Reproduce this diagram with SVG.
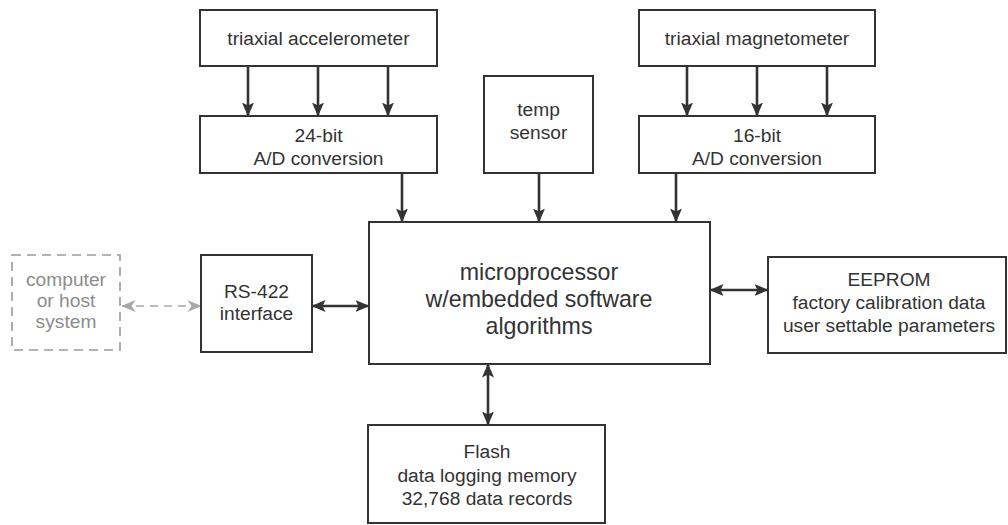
<svg xmlns="http://www.w3.org/2000/svg" width="1008" height="525" viewBox="0 0 1008 525">
  <style>
    .box { fill: #ffffff; stroke: #333333; stroke-width: 2; }
    .ghost { fill: none; stroke: #9a9a9a; stroke-width: 1.6; stroke-dasharray: 9 6; }
    .lbl { font-family: "Liberation Sans", Arial, Helvetica, sans-serif; font-size: 19.2px; fill: #333333; text-anchor: middle; }
    .big { font-size: 23.2px; }
    .grey { fill: #8c8c8c; }
    .wire { stroke: #333333; stroke-width: 2.6; fill: none; }
    .wire1 { marker-end: url(#head); }
    .wire2 { marker-start: url(#head); marker-end: url(#head); }
    .link { stroke: #a8a8a8; stroke-width: 1.6; stroke-dasharray: 8 6; fill: none; marker-start: url(#headGrey); marker-end: url(#headGrey); }
  </style>
  <defs>
    <marker id="head" viewBox="0 0 14 12" markerWidth="14" markerHeight="12" refX="13.5" refY="6" orient="auto-start-reverse" markerUnits="userSpaceOnUse">
      <path d="M0,0 L14,6 L0,12 L3,6 z" fill="#333333"/>
    </marker>
    <marker id="headGrey" viewBox="0 0 14 12" markerWidth="14" markerHeight="12" refX="13.5" refY="6" orient="auto-start-reverse" markerUnits="userSpaceOnUse">
      <path d="M0,0 L14,6 L0,12 L4,6 z" fill="#a8a8a8"/>
    </marker>
  </defs>

  <rect width="1008" height="525" fill="#ffffff"/>

  <g id="connectors">
    <!-- accelerometer axes into 24-bit converter -->
    <line class="wire wire1" x1="248" y1="66" x2="248" y2="116"/>
    <line class="wire wire1" x1="318" y1="66" x2="318" y2="116"/>
    <line class="wire wire1" x1="388" y1="66" x2="388" y2="116"/>
    <!-- magnetometer axes into 16-bit converter -->
    <line class="wire wire1" x1="687" y1="66" x2="687" y2="116"/>
    <line class="wire wire1" x1="757" y1="66" x2="757" y2="116"/>
    <line class="wire wire1" x1="827" y1="66" x2="827" y2="116"/>
    <!-- inputs to the processor -->
    <line class="wire wire1" x1="402" y1="173" x2="402" y2="222"/>
    <line class="wire wire1" x1="539" y1="173" x2="539" y2="222"/>
    <line class="wire wire1" x1="676" y1="173" x2="676" y2="222"/>
    <!-- bidirectional links -->
    <line class="wire wire2" x1="312" y1="306" x2="369" y2="306"/>
    <line class="wire wire2" x1="710" y1="290" x2="768" y2="290"/>
    <line class="wire wire2" x1="488" y1="364" x2="488" y2="425"/>
    <!-- optional host connection -->
    <line class="link" x1="122" y1="306" x2="201" y2="306"/>
  </g>

  <g id="host">
    <rect class="ghost" x="12" y="255" width="108" height="95"/>
    <text class="lbl grey" x="66" y="286">computer</text>
    <text class="lbl grey" x="66" y="307">or host</text>
    <text class="lbl grey" x="66" y="328">system</text>
  </g>

  <g id="accelerometer">
    <rect class="box" x="200" y="10" width="237" height="56"/>
    <text class="lbl" x="318.5" y="45">triaxial accelerometer</text>
  </g>

  <g id="adc24">
    <rect class="box" x="200" y="116" width="237" height="57"/>
    <text class="lbl" x="318.5" y="142">24-bit</text>
    <text class="lbl" x="318.5" y="165">A/D conversion</text>
  </g>

  <g id="temp">
    <rect class="box" x="484" y="76" width="109" height="97"/>
    <text class="lbl" x="538.5" y="116">temp</text>
    <text class="lbl" x="538.5" y="139">sensor</text>
  </g>

  <g id="magnetometer">
    <rect class="box" x="639" y="10" width="236" height="56"/>
    <text class="lbl" x="757" y="45">triaxial magnetometer</text>
  </g>

  <g id="adc16">
    <rect class="box" x="639" y="116" width="236" height="57"/>
    <text class="lbl" x="757" y="142">16-bit</text>
    <text class="lbl" x="757" y="165">A/D conversion</text>
  </g>

  <g id="rs422">
    <rect class="box" x="201" y="255" width="111" height="97"/>
    <text class="lbl" x="256.5" y="298">RS-422</text>
    <text class="lbl" x="256.5" y="320">interface</text>
  </g>

  <g id="processor">
    <rect class="box" x="369" y="222" width="341" height="142"/>
    <text class="lbl big" x="539" y="280">microprocessor</text>
    <text class="lbl big" x="539" y="307">w/embedded software</text>
    <text class="lbl big" x="539" y="334">algorithms</text>
  </g>

  <g id="eeprom">
    <rect class="box" x="768" y="257" width="238" height="96"/>
    <text class="lbl" x="889" y="286">EEPROM</text>
    <text class="lbl" x="889" y="309">factory calibration data</text>
    <text class="lbl" x="889" y="332">user settable parameters</text>
  </g>

  <g id="flash">
    <rect class="box" x="368" y="425" width="237" height="98"/>
    <text class="lbl" x="487" y="458">Flash</text>
    <text class="lbl" x="487" y="482">data logging memory</text>
    <text class="lbl" x="487" y="505">32,768 data records</text>
  </g>
</svg>
